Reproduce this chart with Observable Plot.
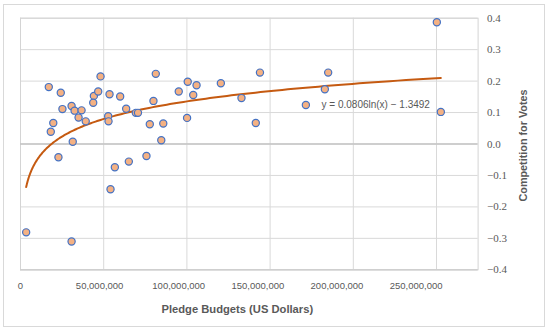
<!DOCTYPE html>
<html>
<head>
<meta charset="utf-8">
<script src="https://cdn.jsdelivr.net/npm/d3@7"></script>
<script src="https://cdn.jsdelivr.net/npm/@observablehq/plot@0.6"></script>
<style>
  html, body { margin: 0; padding: 0; background: #fff; }
  #wrap { position: relative; width: 550px; height: 331px; overflow: hidden; }
  #wrap svg { position: absolute; left: 0; top: 0; }
  #border { position: absolute; left: 3px; top: 4px; width: 542px; height: 323px; box-sizing: border-box; border: 1px solid #d9d9d9; pointer-events: none; }
</style>
</head>
<body>
<div id="wrap"><div id="border"></div></div>
<script>
// Pledge budgets in millions of US dollars
const budgetsM = [17.0, 24.2, 48.1, 25.2, 30.7, 32.5, 36.7, 34.9, 39.2, 19.7, 18.2, 31.4,
  44.1, 46.7, 43.7, 53.5, 59.9, 52.7, 52.9, 63.5, 69.3, 70.6, 81.3, 79.9, 77.7, 85.8,
  84.6, 95.1, 100.5, 100.1, 103.8, 105.8, 120.4, 143.9, 132.8, 141.4, 171.5, 184.9,
  182.9, 250.2, 252.6, 22.8, 56.7, 65.1, 75.7, 54.1, 3.4, 30.7];
// Competition for votes
const competition = [0.181, 0.163, 0.215, 0.111, 0.121, 0.106, 0.107, 0.084, 0.072, 0.067,
  0.039, 0.007, 0.153, 0.167, 0.131, 0.158, 0.151, 0.088, 0.072, 0.112, 0.099, 0.099,
  0.223, 0.137, 0.063, 0.065, 0.012, 0.167, 0.198, 0.083, 0.156, 0.187, 0.193, 0.227,
  0.146, 0.067, 0.124, 0.227, 0.174, 0.387, 0.102, -0.042, -0.074, -0.056, -0.038,
  -0.144, -0.281, -0.310];
// Logarithmic trendline coefficients: y = a ln(x) + b
const trendA = 0.0806;
const trendB = -1.3492;
const trendLabel = "y = 0.0806ln(x) \u2212 1.3492";
// Axis ticks and titles
const xTicks = [0, 50e6, 100e6, 150e6, 200e6, 250e6];
const yTicks = [-0.4, -0.3, -0.2, -0.1, 0, 0.1, 0.2, 0.3, 0.4];
const xTitle = "Pledge Budgets (US Dollars)";
const yTitle = "Competition for Votes";

const points = budgetsM.map((b, i) => ({x: b * 1e6, y: competition[i]}));
const xMin = d3.min(points, d => d.x), xMax = d3.max(points, d => d.x);
const trend = d3.range(0, 201).map(i => {
  const x = Math.exp(Math.log(xMin) + (Math.log(xMax) - Math.log(xMin)) * i / 200);
  return {x, y: trendA * Math.log(x) + trendB};
});

const grey = "#595959";
const sans = "Liberation Sans, Arial, sans-serif";
const serif = "'Liberation Serif', 'DejaVu Serif', 'Times New Roman', serif";
const chart = Plot.plot({
  width: 550,
  height: 331,
  marginLeft: 20,
  marginRight: 72.4,
  marginTop: 17.7,
  marginBottom: 61.7,
  style: {background: "transparent", fontFamily: sans},
  x: {domain: [0, 275e6], axis: null},
  y: {domain: [-0.4, 0.4], axis: null},
  marks: [
    Plot.gridX(xTicks, {stroke: "#d9d9d9", strokeOpacity: 1}),
    Plot.gridY(yTicks, {stroke: "#d9d9d9", strokeOpacity: 1}),
    Plot.frame({stroke: "#d4d4d4"}),
    Plot.ruleY([0], {stroke: "#c4c4c4", strokeWidth: 1.5}),
    Plot.ruleY([-0.4], {stroke: "#cfcfcf", strokeWidth: 1.5}),
    Plot.line(trend, {x: "x", y: "y", stroke: "#C55A11", strokeWidth: 2}),
    Plot.dot(points, {x: "x", y: "y", r: 3.6, fill: "#F4B183", stroke: "#4472C4", strokeWidth: 1.2}),
    Plot.text([trendLabel], {x: 180.9e6, y: 0.1246, text: d => d, textAnchor: "start",
      fontSize: 10, fill: grey}),
    Plot.text(yTicks, {y: d => d, frameAnchor: "right", dx: 9, textAnchor: "start", lineAnchor: "middle",
      text: d => d3.format(".1f")(d), fontSize: 11, fill: grey, fontFamily: serif, ariaLabel: "ytick"}),
    Plot.text(xTicks, {x: d => d * 0.951, frameAnchor: "bottom", dy: 15.7, lineAnchor: "middle",
      textAnchor: "middle", text: d => d3.format(",")(d), fontSize: 9.5, fill: grey}),
    Plot.text([xTitle], {frameAnchor: "bottom", dx: -12, dy: 39.7, lineAnchor: "middle",
      textAnchor: "middle", text: d => d, fontSize: 11.2, fontWeight: "bold", fill: grey}),
    Plot.text([yTitle], {frameAnchor: "right", dx: 45.4, dy: 1.5, rotate: -90, lineAnchor: "middle",
      textAnchor: "middle", text: d => d, fontSize: 10.8, fontWeight: "bold", fill: grey})
  ]
});
d3.select(chart).selectAll("g[aria-label='ytick'], g[aria-label='ytick'] text")
  .style("font-family", serif);
document.getElementById("wrap").insertBefore(chart, document.getElementById("border"));
</script>
</body>
</html>
